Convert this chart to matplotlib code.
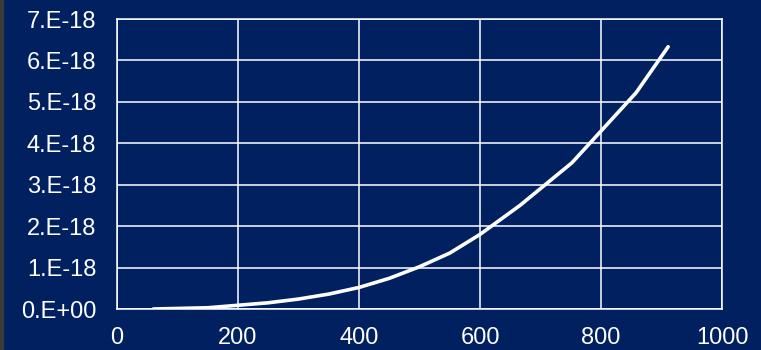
import matplotlib
matplotlib.use("Agg")
import matplotlib.pyplot as plt
from matplotlib.patches import Rectangle

# data
x_vals = [60, 150, 200, 250, 300, 350, 400, 450, 500, 550, 600, 666, 752, 858, 911]
y_vals = [0.0, 0.03, 0.09, 0.15, 0.24, 0.36, 0.52, 0.74, 1.02, 1.35, 1.8, 2.5, 3.53, 5.22, 6.33]
y_scale = 1e-18
y_ticks = [0, 1, 2, 3, 4, 5, 6, 7]
y_labels = ["0.E+00", "1.E-18", "2.E-18", "3.E-18", "4.E-18", "5.E-18", "6.E-18", "7.E-18"]
x_ticks = [0, 200, 400, 600, 800, 1000]

bg = "#002060"
plt.rcParams["font.family"] = ["Liberation Sans", "DejaVu Sans"]

fig = plt.figure(figsize=(7.61, 3.5), dpi=100, facecolor=bg)
ax = fig.add_axes([117 / 761, 1 - 309 / 350, 605 / 761, 290 / 350])
ax.set_facecolor(bg)

ax.plot(x_vals, [v * y_scale for v in y_vals], color="white", lw=2.6,
        solid_capstyle="round", solid_joinstyle="round", zorder=3)

ax.set_xlim(0, 1000)
ax.set_ylim(0, 7e-18)
ax.set_xticks(x_ticks)
ax.set_yticks([t * y_scale for t in y_ticks])
ax.set_yticklabels(y_labels)
ax.grid(True, color="white", lw=1.1)
ax.tick_params(length=0, colors="white", labelsize=17)
ax.tick_params(axis="y", pad=15)
ax.tick_params(axis="x", pad=13)
for s in ax.spines.values():
    s.set_color("white")
    s.set_linewidth(1.1)

# thin dark strip on the left edge
fig.patches.append(Rectangle((0, 0), 3 / 761, 1, transform=fig.transFigure,
                             color="#3a3a3a", zorder=0))

fig.savefig("out.png", dpi=100, facecolor=bg)
